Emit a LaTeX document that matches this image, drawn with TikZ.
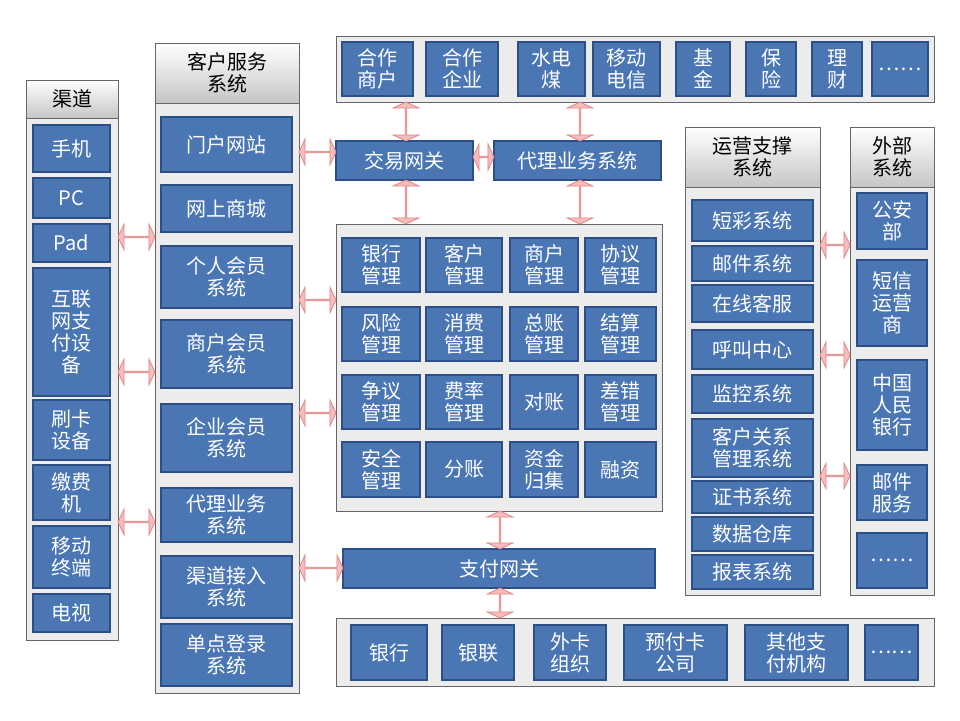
\documentclass[tikz,border=0pt]{standalone}
\usepackage{fontspec}
\setmainfont{Noto Sans CJK SC}
\usetikzlibrary{shapes.arrows,calc}
\definecolor{bfill}{HTML}{4A76B4}
\definecolor{bline}{HTML}{2C4F86}
\definecolor{pfill}{HTML}{F6BDBD}
\definecolor{pline}{HTML}{E08787}
\tikzset{
 blk/.style={draw=bline,line width=1.5pt,fill=bfill,text=white,align=center,font=\fontsize{20}{22}\selectfont,inner sep=0pt},
 pnl/.style={draw=gray!80!black,line width=0.8pt,fill=gray!15},
 hdr/.style={draw=gray!80!black,line width=0.8pt,top color=white,bottom color=gray!45,align=center,font=\fontsize{20}{22}\selectfont,inner sep=0pt},
 darr/.style={double arrow,draw=pline,fill=pfill,line width=0.8pt,double arrow head extend=6pt,double arrow tip angle=130,minimum height=#1,minimum width=26pt,inner sep=0pt,double arrow head indent=0pt},
}
\newcommand{\bx}[7][blk]{\node[#1,minimum width=#4-#2,minimum height=#5-#3] (#6) at ({(#2+#4)/2},{(#3+#5)/2}) {#7};}
\newcommand{\pn}[5]{\node[pnl,minimum width=#3-#1,minimum height=#4-#2,inner sep=0pt] (#5) at ({(#1+#3)/2},{(#2+#4)/2}) {};}
\newcommand{\ha}[4]{\node[darr=#3-#2] (#4) at ({(#2+#3)/2},#1) {};}
\newcommand{\va}[4]{\node[darr=#3-#2,rotate=90] (#4) at (#1,{(#2+#3)/2}) {};}
\begin{document}
\begin{tikzpicture}[x=1pt,y=-1pt]
\useasboundingbox[fill=white] (0,0) rectangle (960,720);
% panels
\pn{26}{80}{118}{640}{chp}
\bx[hdr]{26}{80}{118}{118}{chh}{渠道}
\pn{155}{43}{299}{693}{csp}
\bx[hdr]{155}{43}{299}{103}{csh}{客户服务\\系统}
\pn{336}{36}{934}{102}{topp}
\pn{336}{224}{662}{511}{midp}
\pn{336}{618}{934}{686}{botp}
\pn{685}{127}{820}{595}{opp}
\bx[hdr]{685}{127}{820}{187}{oph}{运营支撑\\系统}
\pn{850}{127}{934}{595}{exp}
\bx[hdr]{850}{127}{934}{187}{exh}{外部\\系统}
% channel
\bx{33}{125}{110}{172}{c1}{手机}
\bx{33}{178}{110}{218}{c2}{PC}
\bx{33}{224}{110}{262}{c3}{Pad}
\bx{33}{268}{110}{396}{c4}{互联\\网支\\付设\\备}
\bx{33}{400}{110}{460}{c5}{刷卡\\设备}
\bx{33}{465}{110}{520}{c6}{缴费\\机}
\bx{33}{526}{110}{588}{c7}{移动\\终端}
\bx{33}{594}{110}{632}{c8}{电视}
% customer
\bx{161}{117}{292}{172}{s1}{门户网站}
\bx{161}{185}{292}{232}{s2}{网上商城}
\bx{161}{246}{292}{308}{s3}{个人会员\\系统}
\bx{161}{320}{292}{388}{s4}{商户会员\\系统}
\bx{161}{404}{292}{472}{s5}{企业会员\\系统}
\bx{161}{488}{292}{542}{s6}{代理业务\\系统}
\bx{161}{556}{292}{618}{s7}{渠道接入\\系统}
\bx{161}{624}{292}{686}{s8}{单点登录\\系统}
% top
\bx{342}{42}{413}{96}{t1}{合作\\商户}
\bx{426}{42}{498}{96}{t2}{合作\\企业}
\bx{518}{42}{585}{96}{t3}{水电\\煤}
\bx{593}{42}{660}{96}{t4}{移动\\电信}
\bx{676}{42}{730}{96}{t5}{基\\金}
\bx{746}{42}{796}{96}{t6}{保\\险}
\bx{812}{42}{862}{96}{t7}{理\\财}
\bx{872}{42}{928}{96}{t8}{……}
% gateways
\bx{336}{141}{473}{180}{jy}{交易网关}
\bx{494}{141}{661}{180}{dl}{代理业务系统}
\bx{343}{549}{655}{588}{zf}{支付网关}
% middle grid
\bx{342}{238}{420}{292}{m11}{银行\\管理}
\bx{426}{238}{502}{292}{m12}{客户\\管理}
\bx{510}{238}{578}{292}{m13}{商户\\管理}
\bx{585}{238}{656}{292}{m14}{协议\\管理}
\bx{342}{307}{420}{361}{m21}{风险\\管理}
\bx{426}{307}{502}{361}{m22}{消费\\管理}
\bx{510}{307}{578}{361}{m23}{总账\\管理}
\bx{585}{307}{656}{361}{m24}{结算\\管理}
\bx{342}{375}{420}{429}{m31}{争议\\管理}
\bx{426}{375}{502}{429}{m32}{费率\\管理}
\bx{510}{375}{578}{429}{m33}{对账}
\bx{585}{375}{656}{429}{m34}{差错\\管理}
\bx{342}{442}{420}{497}{m41}{安全\\管理}
\bx{426}{442}{502}{497}{m42}{分账}
\bx{510}{442}{578}{497}{m43}{资金\\归集}
\bx{585}{442}{656}{497}{m44}{融资}
% bottom
\bx{351}{625}{427}{680}{b1}{银行}
\bx{442}{625}{514}{680}{b2}{银联}
\bx{534}{625}{606}{680}{b3}{外卡\\组织}
\bx{624}{625}{727}{680}{b4}{预付卡\\公司}
\bx{745}{625}{848}{680}{b5}{其他支\\付机构}
\bx{865}{625}{918}{680}{b6}{……}
% operations
\bx{692}{200}{813}{241}{o1}{短彩系统}
\bx{692}{246}{813}{281}{o2}{邮件系统}
\bx{692}{285}{813}{322}{o3}{在线客服}
\bx{692}{330}{813}{369}{o4}{呼叫中心}
\bx{692}{375}{813}{413}{o5}{监控系统}
\bx{692}{419}{813}{477}{o6}{客户关系\\管理系统}
\bx{692}{481}{813}{513}{o7}{证书系统}
\bx{692}{517}{813}{551}{o8}{数据仓库}
\bx{692}{555}{813}{589}{o9}{报表系统}
% external
\bx{857}{193}{927}{249}{e1}{公安\\部}
\bx{857}{260}{927}{346}{e2}{短信\\运营\\商}
\bx{857}{360}{927}{450}{e3}{中国\\人民\\银行}
\bx{857}{465}{927}{520}{e4}{邮件\\服务}
\bx{857}{533}{927}{588}{e5}{……}
% arrows
\ha{237}{118}{155}{a1}
\ha{372}{118}{155}{a2}
\ha{522}{118}{155}{a3}
\ha{152}{299}{336}{a4}
\ha{300}{299}{336}{a5}
\ha{413}{299}{336}{a6}
\ha{568}{299}{343}{a7}
\ha{157}{473}{494}{a8}
\ha{245}{820}{850}{a9}
\ha{355}{820}{850}{a10}
\ha{476}{820}{850}{a11}
\va{406}{102}{141}{v1}
\va{406}{180}{224}{v2}
\va{580}{102}{141}{v3}
\va{580}{180}{224}{v4}
\va{500}{511}{549}{v5}
\va{500}{588}{618}{v6}
\end{tikzpicture}
\end{document}
